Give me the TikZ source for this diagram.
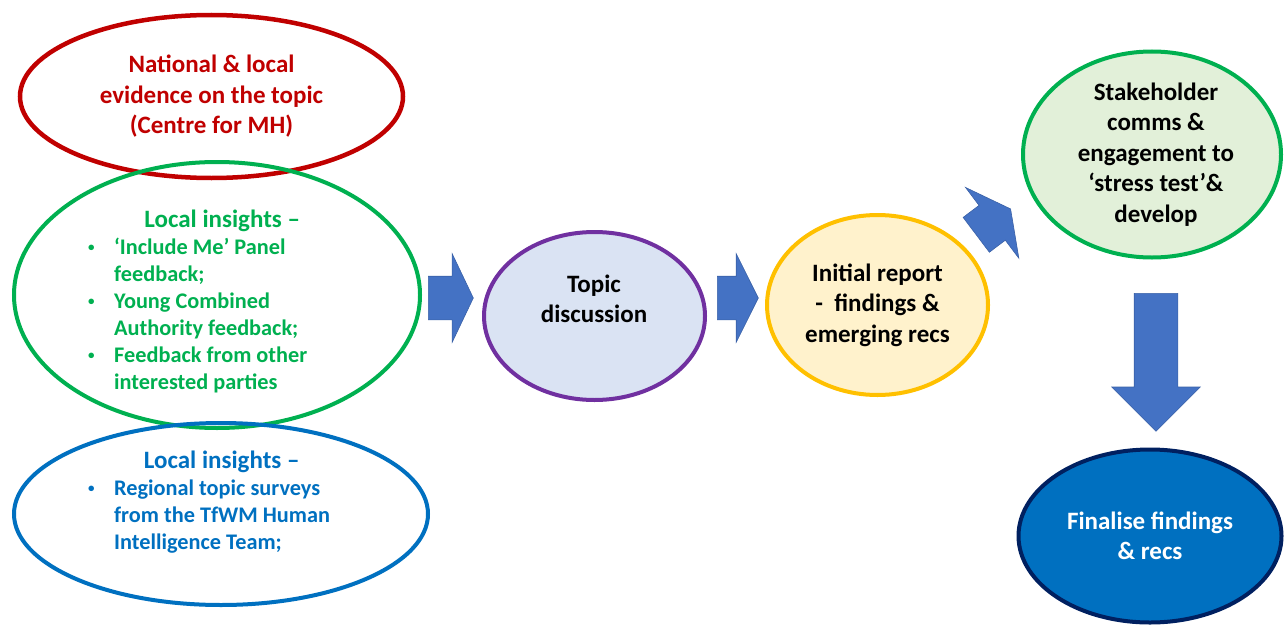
\documentclass[tikz,border=0pt]{standalone}
\usepackage{fontspec}
\setmainfont{Carlito}
\usetikzlibrary{shapes.geometric,shapes.arrows}

\definecolor{evidred}{HTML}{C00000}
\definecolor{insgreen}{HTML}{00B050}
\definecolor{insblue}{HTML}{0070C0}
\definecolor{topicpurple}{HTML}{7030A0}
\definecolor{topicfill}{HTML}{DAE3F3}
\definecolor{reportgold}{HTML}{FFC000}
\definecolor{reportfill}{HTML}{FFF2CC}
\definecolor{stakefill}{HTML}{E2F0D9}
\definecolor{finalnavy}{HTML}{002060}
\definecolor{arrowblue}{HTML}{4472C4}

\newcommand{\listhead}[2]{\makebox[#1]{\fontsize{25}{27}\selectfont #2}}
\newcommand{\listdot}{\makebox[27pt][l]{\hspace*{1pt}\raisebox{3pt}{\fontsize{13}{13}\selectfont\textbullet}}}
\newcommand{\listgap}{\hspace*{27pt}}

\begin{document}
\begin{tikzpicture}[
  x=1pt, y=-1pt,
  every node/.style={inner sep=0pt},
  ring/.style={ellipse, line width=4pt},
  bigtxt/.style={font=\bfseries\fontsize{25}{30.5}\selectfont, align=center},
  listtxt/.style={font=\bfseries\fontsize{22.3}{27}\selectfont, align=left},
  blockarrow/.style={single arrow, fill=arrowblue, draw=arrowblue!85!black,
    line width=0.6pt, inner xsep=0pt, inner ysep=21.5pt, minimum width=88pt,
    single arrow head extend=22.5pt, single arrow head indent=0pt}
]
\useasboundingbox (0,0) rectangle (1284,626);

% left column
\node[ring, draw=evidred, line width=4.5pt, minimum width=383pt, minimum height=163pt,
  bigtxt, text=evidred] (evid) at (211.5,96.5)
  {National \& local\\evidence on the topic\\(Centre for MH)};
\node[ring, draw=insgreen, minimum width=406pt, minimum height=266pt] (insA) at (217,295) {};
\node[listtxt, text=insgreen, anchor=west] (insAtxt) at (87,301.5)
  {\listhead{270pt}{Local insights –}\\
   \listdot‘Include Me’ Panel\\
   \listgap feedback;\\
   \listdot Young Combined\\
   \listgap Authority feedback;\\
   \listdot Feedback from other\\
   \listgap interested parties};
\node[ring, draw=insblue, minimum width=414pt, minimum height=182pt] (insB) at (221,514) {};
\node[listtxt, text=insblue, anchor=west] (insBtxt) at (87,502.5)
  {\listhead{269pt}{Local insights –}\\
   \listdot Regional topic surveys\\
   \listgap from the TfWM Human\\
   \listgap Intelligence Team;};

% middle
\node[ring, draw=topicpurple, fill=topicfill, minimum width=221pt, minimum height=168pt] (topic) at (594.5,316) {};
\node[bigtxt] (topictxt) at (594,299) {Topic\\discussion};
\node[ring, draw=reportgold, fill=reportfill, minimum width=221pt, minimum height=180pt,
  bigtxt] (report) at (877.5,305)
  {Initial report\\-\ \ findings \&\\emerging recs};

% right column
\node[ring, draw=insgreen, fill=stakefill, minimum width=258pt, minimum height=206pt] (stake) at (1152,154.5) {};
\node[bigtxt] (staketxt) at (1156,154.5)
  {Stakeholder\\comms \&\\engagement to\\‘stress test’\&\\develop};
\node[ring, draw=finalnavy, fill=insblue, minimum width=263pt, minimum height=173pt,
  bigtxt, text=white] (final) at (1150,536)
  {Finalise findings\\\& recs};

% block arrows
\node[blockarrow, minimum height=45pt, single arrow tip angle=129, anchor=tail] (arrA) at (428,298) {};
\node[blockarrow, minimum height=41pt, single arrow tip angle=127, anchor=tail] (arrB) at (717,298) {};
\node[blockarrow, minimum height=43pt, single arrow tip angle=125, rotate=37, anchor=tail] (arrC) at (976,235) {};
\node[blockarrow, minimum height=138pt, single arrow tip angle=90, rotate=-90, anchor=tail] (arrD) at (1156,293) {};

\end{tikzpicture}
\end{document}
